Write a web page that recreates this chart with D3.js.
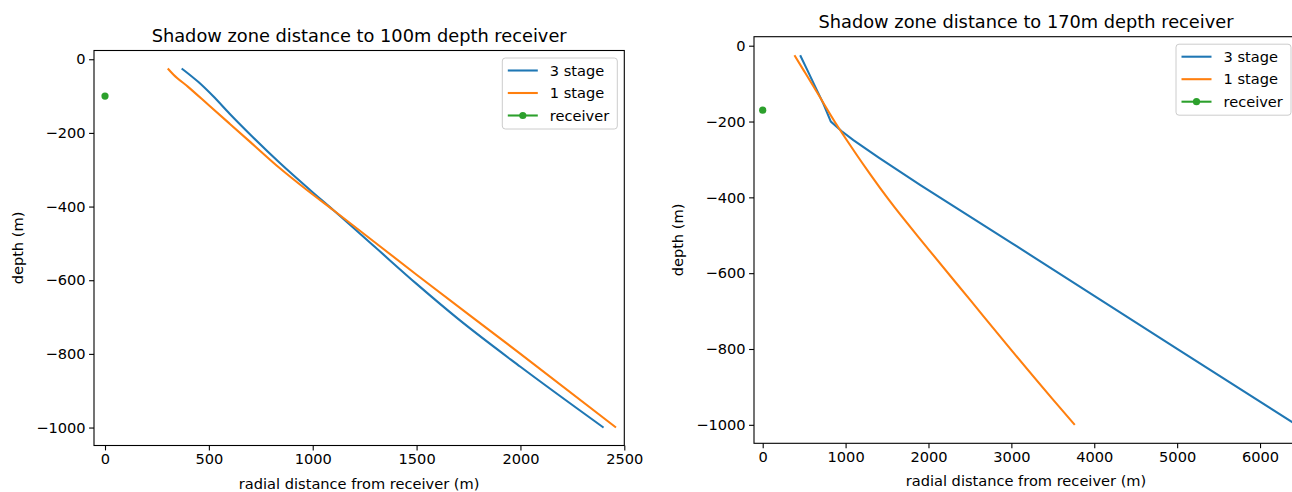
<!DOCTYPE html>
<html lang="en">
<head>
  <meta charset="UTF-8">
  <title>Shadow zone distance</title>
  <script src="https://d3js.org/d3.v7.min.js"></script>
  <style>
    body { margin: 0; background: #fff; }
    text { font-family: "DejaVu Sans", sans-serif; fill: #000; }
  </style>
</head>
<body>
  <svg id="chart" width="1292" height="492"></svg>

  <script>
    // left panel: 100m receiver
    const leftStage3X = [369, 450, 520, 600, 700, 842, 987, 1100, 1300, 1500, 1700, 2000, 2400];
    const leftStage3Y = [-25, -62, -100, -148, -205, -282, -355, -410, -510, -610, -705, -835, -1000];
    const leftStage1X = [302, 330, 400, 500, 600, 700, 842, 972, 1100, 1500, 2000, 2460];
    const leftStage1Y = [-25, -42, -75, -125, -175, -225, -296, -355, -410, -585, -800, -1000];
    const leftReceiver = [0, -100];
    const leftXTicks = [0, 500, 1000, 1500, 2000, 2500];

    // right panel: 170m receiver
    const rightStage3X = [452, 540, 633, 730, 822, 950, 1094, 1400, 1898, 3000, 4000, 5000, 6440];
    const rightStage3Y = [-25, -65, -108, -152, -200, -225, -249, -295, -367, -520, -660, -800, -1000];
    const rightStage1X = [383, 500, 650, 873, 1100, 1300, 1516, 2000, 2500, 3000, 3500, 3765];
    const rightStage1Y = [-25, -67, -121, -202, -277, -340, -405, -537, -670, -803, -933, -1000];
    const rightReceiver = [0, -170];
    const rightXTicks = [0, 1000, 2000, 3000, 4000, 5000, 6000];

    const yTicks = [0, -200, -400, -600, -800, -1000];
    const legendLabels = ["3 stage", "1 stage", "receiver"];
    const colors = ["#1f77b4", "#ff7f0e", "#2ca02c"];

    const svg = d3.select("#chart");
    const fontSize = 14.6;

    function zip(xs, ys) {
      return xs.map((x, i) => [x, ys[i]]);
    }

    function drawPanel(p) {
      const x = d3.scaleLinear().domain(p.xDomain).range([p.left, p.right]);
      const y = d3.scaleLinear().domain([-1048.75, 23.75]).range([p.bottom, p.top]);
      const g = svg.append("g");

      const smooth = d3.line().x(d => x(d[0])).y(d => y(d[1])).curve(d3.curveMonotoneX);
      const straight = d3.line().x(d => x(d[0])).y(d => y(d[1]));

      g.append("path")
        .datum(zip(p.s3x, p.s3y))
        .attr("fill", "none").attr("stroke", colors[0]).attr("stroke-width", 2.08)
        .attr("d", p.sharp3 ? straight : smooth);
      g.append("path")
        .datum(zip(p.s1x, p.s1y))
        .attr("fill", "none").attr("stroke", colors[1]).attr("stroke-width", 2.08)
        .attr("d", smooth);
      g.append("circle")
        .attr("cx", x(p.recv[0])).attr("cy", y(p.recv[1])).attr("r", 3.6)
        .attr("fill", colors[2]);

      // spines
      g.append("rect")
        .attr("x", p.left).attr("y", p.top)
        .attr("width", p.right - p.left).attr("height", p.bottom - p.top)
        .attr("fill", "none").attr("stroke", "#000").attr("stroke-width", 1.1);

      const xAxis = g.append("g")
        .attr("transform", `translate(0,${p.bottom})`)
        .call(d3.axisBottom(x).tickValues(p.xTicks).tickSizeInner(4.9).tickSizeOuter(0).tickPadding(3.5).tickFormat(d3.format("d")));
      const yAxis = g.append("g")
        .attr("transform", `translate(${p.left},0)`)
        .call(d3.axisLeft(y).tickValues(yTicks).tickSizeInner(4.9).tickSizeOuter(0).tickPadding(3.5).tickFormat(d3.format("d")));
      [xAxis, yAxis].forEach(a => {
        a.select(".domain").remove();
        a.selectAll(".tick line").attr("stroke", "#000").attr("stroke-width", 1.1);
        a.selectAll(".tick text").style("font-size", fontSize + "px").style("font-family", "DejaVu Sans").attr("fill", "#000");
      });

      g.append("text")
        .attr("x", (p.left + p.right) / 2).attr("y", p.top - 8.3)
        .attr("text-anchor", "middle").style("font-size", "17.8px")
        .text(p.title);

      g.append("text")
        .attr("x", (p.left + p.right) / 2).attr("y", p.bottom + 38).attr("dy", "0.35em")
        .attr("text-anchor", "middle").style("font-size", fontSize + "px")
        .text("radial distance from receiver (m)");

      g.append("text")
        .attr("transform", `translate(${p.left - 76},${(p.top + p.bottom) / 2}) rotate(-90)`)
        .attr("dy", "0.35em")
        .attr("text-anchor", "middle").style("font-size", fontSize + "px")
        .text("depth (m)");

      // legend, upper right
      const lw = 115, lh = 71;
      const lx = p.right - 7 - lw, ly = p.top + 7.5;
      const leg = g.append("g").attr("transform", `translate(${lx},${ly})`);
      leg.append("rect")
        .attr("width", lw).attr("height", lh).attr("rx", 3)
        .attr("fill", "#fff").attr("fill-opacity", 0.8)
        .attr("stroke", "#ccc").attr("stroke-width", 1);
      legendLabels.forEach((lab, i) => {
        const cy = 12.5 + i * 22.5;
        leg.append("line")
          .attr("x1", 5.5).attr("x2", 35.5).attr("y1", cy).attr("y2", cy)
          .attr("stroke", colors[i]).attr("stroke-width", 2.08);
        if (i === 2) {
          leg.append("circle").attr("cx", 20.5).attr("cy", cy).attr("r", 3.6).attr("fill", colors[i]);
        }
        leg.append("text")
          .attr("x", 47.5).attr("y", cy).attr("dy", "0.35em")
          .style("font-size", fontSize + "px")
          .text(lab);
      });
    }

    drawPanel({
      title: "Shadow zone distance to 100m depth receiver",
      left: 94, right: 624.3, top: 50.5, bottom: 445.5,
      xDomain: [-53, 2500],
      s3x: leftStage3X, s3y: leftStage3Y,
      s1x: leftStage1X, s1y: leftStage1Y,
      recv: leftReceiver, xTicks: leftXTicks
    });

    drawPanel({
      title: "Shadow zone distance to 170m depth receiver",
      left: 754, right: 1298, top: 36.7, bottom: 443.3,
      xDomain: [-105, 6458],
      s3x: rightStage3X, s3y: rightStage3Y,
      s1x: rightStage1X, s1y: rightStage1Y,
      recv: rightReceiver, xTicks: rightXTicks, sharp3: true
    });
  </script>
</body>
</html>
